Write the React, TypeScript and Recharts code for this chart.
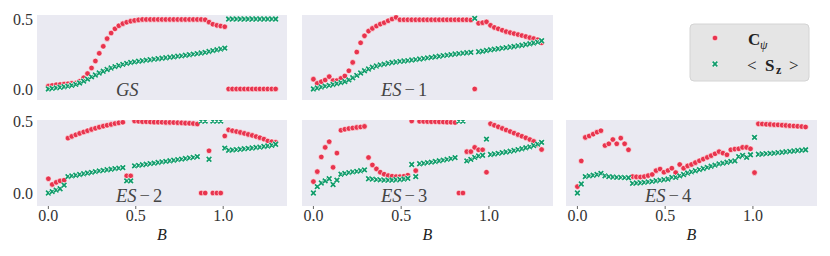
import { ScatterChart, Scatter, XAxis, YAxis, CartesianGrid } from "recharts";

// magnetic field values (x)
const B = [
  0, 0.022, 0.045, 0.067, 0.09, 0.112, 0.134, 0.157, 0.179, 0.202,
  0.224, 0.247, 0.269, 0.291, 0.314, 0.336, 0.359, 0.381, 0.403, 0.426,
  0.448, 0.471, 0.493, 0.516, 0.538, 0.56, 0.583, 0.605, 0.628, 0.65,
  0.672, 0.695, 0.717, 0.74, 0.762, 0.784, 0.807, 0.829, 0.852, 0.874,
  0.897, 0.919, 0.941, 0.964, 0.986, 1.009, 1.031, 1.053, 1.076, 1.098,
  1.121, 1.143, 1.166, 1.188, 1.21, 1.233, 1.255, 1.278, 1.3,
];

// GS
const gsC = [
  0.02, 0.025, 0.03, 0.032, 0.035, 0.037, 0.04, 0.043, 0.055, 0.08,
  0.11, 0.15, 0.2, 0.255, 0.305, 0.36, 0.4, 0.43, 0.452, 0.467,
  0.477, 0.485, 0.49, 0.494, 0.497, 0.497, 0.497, 0.497, 0.497, 0.497,
  0.497, 0.497, 0.497, 0.497, 0.497, 0.497, 0.497, 0.497, 0.497, 0.497,
  0.495, 0.478, 0.463, 0.455, 0.45, 0.445, 0, 0, 0, 0,
  0, 0, 0, 0, 0, 0, 0, 0, 0,
];
const gsS = [
  0, 0.004, 0.008, 0.012, 0.016, 0.02, 0.026, 0.033, 0.043, 0.056,
  0.07, 0.086, 0.1, 0.114, 0.127, 0.139, 0.15, 0.16, 0.168, 0.176,
  0.183, 0.189, 0.194, 0.198, 0.202, 0.206, 0.209, 0.213, 0.216, 0.22,
  0.223, 0.227, 0.23, 0.234, 0.237, 0.241, 0.245, 0.249, 0.253, 0.257,
  0.262, 0.268, 0.274, 0.28, 0.286, 0.292, 0.5, 0.5, 0.5, 0.5,
  0.5, 0.5, 0.5, 0.5, 0.5, 0.5, 0.5, 0.5, 0.5,
];

// ES-1
const es1C = [
  0.07, 0.04, 0.052, 0.064, 0.088, 0.06, 0.06, 0.076, 0.093, 0.13,
  0.19, 0.264, 0.33, 0.38, 0.414, 0.433, 0.45, 0.464, 0.474, 0.488,
  0.5, 0.512, 0.495, 0.495, 0.495, 0.495, 0.495, 0.495, 0.495, 0.495,
  0.495, 0.495, 0.495, 0.495, 0.495, 0.495, 0.495, 0.495, 0.495, 0.495,
  0.493, 0, 0.47, 0.474, 0.48, 0.455, 0.44, 0.43, 0.42, 0.41,
  0.403, 0.396, 0.389, 0.382, 0.375, 0.367, 0.36, 0.352, 0.33,
];
const es1S = [
  0, 0.007, 0.014, 0.02, 0.026, 0.032, 0.038, 0.045, 0.053, 0.065,
  0.08, 0.097, 0.114, 0.13, 0.143, 0.155, 0.164, 0.172, 0.178, 0.184,
  0.189, 0.193, 0.197, 0.2, 0.203, 0.207, 0.21, 0.214, 0.218, 0.222,
  0.226, 0.23, 0.234, 0.238, 0.242, 0.246, 0.25, 0.253, 0.256, 0.259,
  0.262, 0.505, 0.266, 0.27, 0.275, 0.28, 0.284, 0.288, 0.292, 0.296,
  0.3, 0.304, 0.308, 0.313, 0.318, 0.323, 0.329, 0.335, 0.345,
];

// ES-2
const es2C = [
  0.1, 0.06, 0.075, 0.085, 0.09, 0.385, 0.397, 0.408, 0.418, 0.428,
  0.437, 0.446, 0.454, 0.462, 0.469, 0.475, 0.481, 0.487, 0.492, 0.496,
  0.12, 0.12, 0.505, 0.503, 0.5, 0.5, 0.498, 0.497, 0.497, 0.496,
  0.495, 0.495, 0.494, 0.493, 0.492, 0.49, 0.489, 0.487, 0.484, 0,
  0, 0.296, 0, 0, 0, 0.4, 0.443, 0.437, 0.431, 0.425,
  0.418, 0.411, 0.404, 0.396, 0.388, 0.378, 0.365, 0.36, 0.355,
];
const es2S = [
  0, 0.01, 0.02, 0.03, 0.055, 0.115, 0.12, 0.125, 0.13, 0.135,
  0.14, 0.145, 0.15, 0.155, 0.159, 0.163, 0.167, 0.171, 0.175, 0.178,
  0.085, 0.085, 0.19, 0.194, 0.198, 0.202, 0.206, 0.21, 0.214, 0.218,
  0.222, 0.226, 0.23, 0.234, 0.238, 0.242, 0.246, 0.25, 0.255, 0.505,
  0.505, 0.237, 0.505, 0.505, 0.505, 0.315, 0.3, 0.302, 0.304, 0.307,
  0.31, 0.313, 0.316, 0.319, 0.322, 0.326, 0.33, 0.335, 0.342,
];

// ES-3
const es3C = [
  0.08, 0.15, 0.253, 0.32, 0.36, 0.18, 0.28, 0.44, 0.447, 0.452,
  0.456, 0.46, 0.463, 0.467, 0.249, 0.197, 0.169, 0.146, 0.132, 0.122,
  0.118, 0.115, 0.115, 0.118, 0.125, 0.505, 0.157, 0.503, 0.502, 0.501,
  0.5, 0.5, 0.499, 0.498, 0.497, 0.496, 0.494, 0, 0, 0.29,
  0.29, 0.32, 0.303, 0.303, 0.146, 0.486, 0.475, 0.464, 0.453, 0.442,
  0.431, 0.42, 0.409, 0.398, 0.387, 0.375, 0.362, 0.338, 0.305,
];
const es3S = [
  0, 0.045, 0.07, 0.085, 0.1, 0.06, 0.09, 0.132, 0.138, 0.143,
  0.148, 0.152, 0.156, 0.162, 0.1, 0.097, 0.094, 0.092, 0.09, 0.09,
  0.091, 0.093, 0.095, 0.098, 0.103, 0.2, 0.115, 0.205, 0.209, 0.213,
  0.217, 0.221, 0.226, 0.231, 0.236, 0.241, 0.248, 0.505, 0.505, 0.225,
  0.236, 0.25, 0.26, 0.265, 0.378, 0.27, 0.274, 0.278, 0.283, 0.288,
  0.293, 0.298, 0.304, 0.31, 0.317, 0.324, 0.333, 0.343, 0.355,
];

// ES-4
const es4C = [
  0.045, 0.225, 0.39, 0.4, 0.413, 0.427, 0.437, 0.333, 0.345, 0.375,
  0.345, 0.385, 0.345, 0.303, 0.115, 0.113, 0.112, 0.115, 0.122, 0.13,
  0.157, 0.168, 0.146, 0.158, 0.174, 0.143, 0.2, 0.174, 0.19, 0.2,
  0.213, 0.226, 0.238, 0.25, 0.262, 0.275, 0.29, 0.28, 0.268, 0.303,
  0.308, 0.31, 0.32, 0.32, 0.31, 0.143, 0.485, 0.484, 0.482, 0.481,
  0.479, 0.478, 0.476, 0.474, 0.472, 0.47, 0.468, 0.466, 0.463,
];
const es4S = [
  0, 0.063, 0.115, 0.12, 0.125, 0.13, 0.138, 0.12, 0.115, 0.112,
  0.11, 0.11, 0.108, 0.107, 0.068, 0.07, 0.072, 0.075, 0.078, 0.082,
  0.086, 0.09, 0.094, 0.098, 0.11, 0.11, 0.12, 0.13, 0.14, 0.148,
  0.156, 0.164, 0.172, 0.18, 0.188, 0.196, 0.204, 0.21, 0.216, 0.222,
  0.225, 0.255, 0.263, 0.25, 0.268, 0.39, 0.272, 0.274, 0.276, 0.278,
  0.28, 0.283, 0.286, 0.289, 0.292, 0.295, 0.298, 0.3, 0.303,
];

const X_TICKS = [0, 0.5, 1.0];
const Y_TICKS = [0, 0.5];
const X_DOMAIN = [-0.065, 1.365];

const RED = "#e8344e";
const GREEN = "#129c6c";
const FONT = "Liberation Serif";

const COLS = [
  { left: 37, w: 250 },
  { left: 302, w: 251 },
  { left: 566, w: 251 },
];
const ROWS = [
  { top: 15, h: 85, dom: [-0.079, 0.529] },
  { top: 120, h: 86, dom: [-0.091, 0.512] },
];
const PAD = 10;

const PANELS = [
  { name: "GS", num: "", c: gsC, s: gsS, row: 0, col: 0 },
  { name: "ES", num: "1", c: es1C, s: es1S, row: 0, col: 1 },
  { name: "ES", num: "2", c: es2C, s: es2S, row: 1, col: 0 },
  { name: "ES", num: "3", c: es3C, s: es3S, row: 1, col: 1 },
  { name: "ES", num: "4", c: es4C, s: es4S, row: 1, col: 2 },
];

const RedDot = (props: any) => {
  const { cx, cy } = props;
  if (cx == null || cy == null) return null;
  return <circle cx={cx} cy={cy} r={2.8} fill={RED} stroke="#fff" strokeWidth={0.6} />;
};

const GreenX = (props: any) => {
  const { cx, cy } = props;
  if (cx == null || cy == null) return null;
  const k = 2.3;
  const d = `M${cx - k},${cy - k}L${cx + k},${cy + k}M${cx - k},${cy + k}L${cx + k},${cy - k}`;
  return (
    <g>
      <path d={d} stroke="#fff" strokeWidth={3} />
      <path d={d} stroke={GREEN} strokeWidth={1.8} />
    </g>
  );
};

function Panel({ p }: { p: (typeof PANELS)[number] }) {
  const col = COLS[p.col];
  const row = ROWS[p.row];
  const yw = p.col === 0 ? 37 : 0;
  const xh = p.row === 1 ? 30 : 6;
  const red = B.map((b, i) => ({ B: b, v: p.c[i] }));
  const green = B.map((b, i) => ({ B: b, v: p.s[i] }));
  const tickStyle = { fontFamily: FONT, fontSize: 16, fill: "#333" };

  return (
    <div style={{ position: "absolute", left: col.left - yw, top: row.top - PAD }}>
      <ScatterChart
        width={col.w + yw}
        height={row.h + xh + PAD}
        margin={{ top: PAD, right: 0, bottom: 0, left: 0 }}
      >
        <CartesianGrid fill="#EAEAF2" stroke="none" horizontal={false} vertical={false} />
        <XAxis
          type="number"
          dataKey="B"
          domain={X_DOMAIN}
          ticks={X_TICKS}
          allowDataOverflow
          interval={0}
          height={xh}
          axisLine={false}
          tickSize={3}
          tickMargin={1}
          tickLine={{ stroke: "#666" }}
          tick={p.row === 1 ? tickStyle : false}
          tickFormatter={(v: number) => v.toFixed(1)}
        />
        <YAxis
          type="number"
          dataKey="v"
          domain={row.dom}
          ticks={Y_TICKS}
          allowDataOverflow
          interval={0}
          width={yw}
          hide={p.col !== 0}
          axisLine={false}
          tickLine={false}
          tickSize={0}
          tickMargin={4}
          tick={tickStyle}
          tickFormatter={(v: number) => v.toFixed(1)}
        />
        <Scatter data={red} shape={RedDot} isAnimationActive={false} />
        <Scatter data={green} shape={GreenX} isAnimationActive={false} />
      </ScatterChart>
    </div>
  );
}

export default function App() {
  return (
    <div
      style={{
        position: "absolute",
        left: 0,
        top: 0,
        width: 830,
        height: 256,
        background: "#fff",
        fontFamily: FONT,
      }}
    >
      {PANELS.map((p) => (
        <Panel key={p.name + p.num} p={p} />
      ))}
      <svg
        width={830}
        height={256}
        fontFamily={FONT}
        style={{ position: "absolute", left: 0, top: 0, pointerEvents: "none" }}
      >
        {PANELS.map((p) => {
          const col = COLS[p.col];
          const row = ROWS[p.row];
          return (
            <text key={"l" + p.name + p.num} x={col.left + 79} y={row.top + row.h - 4} fontSize={18.5} fill="#444">
              <tspan fontStyle="italic">{p.name}</tspan>
              {p.num && <tspan dx={3}>{"\u2212"}</tspan>}
              {p.num && <tspan dx={3}>{p.num}</tspan>}
            </text>
          );
        })}
        {COLS.map((c, i) => (
          <text key={"b" + i} x={c.left + c.w / 2} y={240} fontSize={16} fontStyle="italic" fill="#222" textAnchor="middle">
            B
          </text>
        ))}
        <rect x={690} y={24} width={119} height={57} rx={4} fill="#e5e5e5" stroke="#d4d4d4" strokeWidth={1} />
        <circle cx={715} cy={38} r={2.8} fill={RED} stroke="#fff" strokeWidth={0.6} />
        <g>
          <path d="M712.7,61.7L717.3,66.3M712.7,66.3L717.3,61.7" stroke="#fff" strokeWidth={3} />
          <path d="M712.7,61.7L717.3,66.3M712.7,66.3L717.3,61.7" stroke={GREEN} strokeWidth={1.8} />
        </g>
        <text x={748} y={45} fontSize={17} fontWeight="bold" fill="#222">
          C
        </text>
        <text x={760} y={49} fontSize={12} fontStyle="italic" fill="#222">
          ψ
        </text>
        <text y={71} fontSize={17} fill="#222">
          <tspan x={747}>{"<"}</tspan>
          <tspan x={765} fontWeight="bold">S</tspan>
          <tspan x={776} dy={3} fontSize={12} fontWeight="bold">z</tspan>
          <tspan x={789} dy={-3}>{">"}</tspan>
        </text>
      </svg>
    </div>
  );
}
